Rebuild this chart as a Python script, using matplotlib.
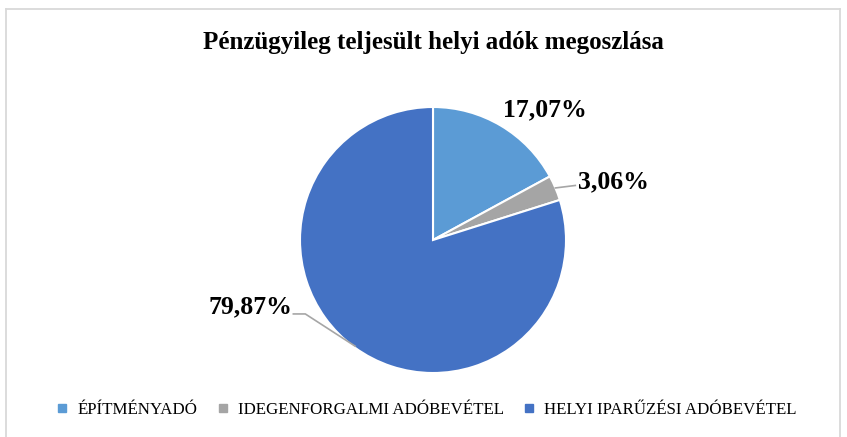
import matplotlib.pyplot as plt
from matplotlib.lines import Line2D
import numpy as np

categories = ["ÉPÍTMÉNYADÓ", "IDEGENFORGALMI ADÓBEVÉTEL", "HELYI IPARŰZÉSI ADÓBEVÉTEL"]
shares = [17.07, 3.06, 79.87]
colors = ["#5B9BD5", "#A5A5A5", "#4472C4"]

plt.rcParams['font.family'] = ['Liberation Serif', 'DejaVu Serif']

W, H = 847, 437
fig = plt.figure(figsize=(W / 100, H / 100), dpi=100)

# chart frame (left, top, right edges)
fc = "#D9D9D9"
fig.add_artist(Line2D([6 / W, 6 / W], [0, 1 - 9 / H], color=fc, lw=1.3, transform=fig.transFigure))
fig.add_artist(Line2D([6 / W, 840 / W], [1 - 9 / H, 1 - 9 / H], color=fc, lw=1.3, transform=fig.transFigure))
fig.add_artist(Line2D([840 / W, 840 / W], [0, 1 - 9 / H], color=fc, lw=1.3, transform=fig.transFigure))

cx, cy, r = 433, 240, 133
ax = fig.add_axes([(cx - r) / W, (H - cy - r) / H, 2 * r / W, 2 * r / H])
wedges, _ = ax.pie(shares, colors=colors, startangle=90, counterclock=False,
                   wedgeprops=dict(edgecolor="white", linewidth=1.5))
ax.set_xlim(-1, 1)
ax.set_ylim(-1, 1)
ax.set_aspect("equal")

fig.text(cx / W, 1 - 42 / H, "Pénzügyileg teljesült helyi adók megoszlása",
         ha="center", va="center", fontsize=18, fontweight="bold")

# data labels
for w, val in zip(wedges, shares):
    txt = f"{val:.2f}%".replace(".", ",")
    ang = np.deg2rad((w.theta1 + w.theta2) / 2)
    ex, ey = np.cos(ang), np.sin(ang)
    if val < 5:
        ax.plot([ex * 1.0, 1.07], [ey * 1.0, 0.41], color="#A6A6A6", lw=1.2, clip_on=False)
        ax.text(1.09, 0.44, txt, ha="left", va="center", fontsize=18.5, fontweight="bold")
    elif ex < 0:
        ax.plot([ex * 0.99, -0.96, -1.05], [ey * 0.99, -0.556, -0.556], color="#A6A6A6", lw=1.2, clip_on=False)
        ax.text(-1.06, -0.50, txt, ha="right", va="center", fontsize=18.5, fontweight="bold")
    else:
        ax.text(0.84, 0.98, txt, ha="center", va="center", fontsize=18.5, fontweight="bold")

handles = [plt.Line2D([], [], marker="s", ls="", color=c, markersize=6) for c in colors]
fig.legend(handles, categories, loc="center", bbox_to_anchor=(426 / W, 1 - 410 / H),
           ncol=3, frameon=False, fontsize=12.2, handlelength=0.8, handletextpad=0.5,
           columnspacing=1.1)

fig.savefig("out.png", dpi=100, facecolor="white")
